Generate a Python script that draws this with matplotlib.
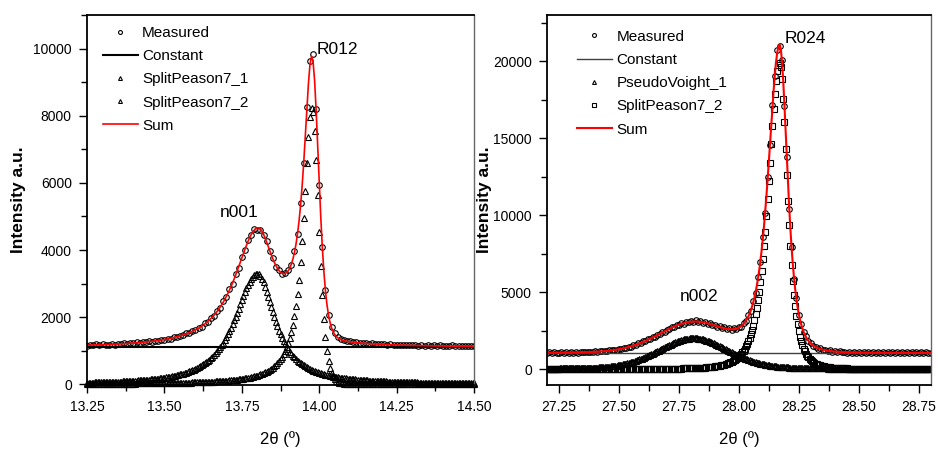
import numpy as np
import matplotlib.pyplot as plt
from matplotlib.ticker import MultipleLocator

plt.rcParams['font.family'] = ['Liberation Sans', 'DejaVu Sans']
plt.rcParams['mathtext.default'] = 'regular'

# ---- left scan: n001 / R012 ----
tt_a = np.round(np.arange(13.25, 14.505, 0.01), 2)
meas_a = [
    1150, 1185, 1160, 1192, 1170, 1200, 1168, 1178, 1215, 1186,
    1210, 1195, 1230, 1205, 1238, 1222, 1250, 1234, 1268, 1252,
    1290, 1270, 1305, 1298, 1335, 1330, 1360, 1365, 1410, 1400,
    1455, 1462, 1520, 1528, 1590, 1610, 1690, 1718, 1815, 1860,
    1985, 2040, 2195, 2280, 2470, 2600, 2840, 3000, 3290, 3480,
    3800, 4010, 4290, 4440, 4620, 4610, 4590, 4450, 4270, 3960,
    3760, 3510, 3400, 3280, 3320, 3410, 3560, 3960, 4480, 5400,
    6600, 8250, 9620, 9850, 8200, 5950, 4100, 2810, 2080, 1700,
    1520, 1400, 1355, 1320, 1290, 1280, 1262, 1250, 1245, 1230,
    1228, 1215, 1222, 1200, 1212, 1195, 1205, 1180, 1192, 1178,
    1185, 1170, 1180, 1160, 1175, 1158, 1172, 1150, 1166, 1155,
    1162, 1148, 1158, 1145, 1170, 1140, 1155, 1148, 1160, 1135,
    1150, 1142, 1155, 1138, 1148, 1140,
]
const_a = 1100
# split Pearson VII: centre, height, hwhm left, hwhm right, m left, m right
sp7_a1 = (13.800, 3300, 0.087, 0.068, 1.2, 1.0)
sp7_a2 = (13.976, 8250, 0.032, 0.026, 1.0, 5.0)

# ---- right scan: n002 / R024 ----
tt_b = np.round(np.arange(27.20, 28.805, 0.01), 2)
meas_b = [
    1040, 1085, 1050, 1095, 1060, 1030, 1090, 1065, 1100, 1045,
    1095, 1060, 1105, 1070, 1110, 1080, 1125, 1090, 1130, 1100,
    1150, 1115, 1165, 1140, 1190, 1170, 1225, 1205, 1260, 1250,
    1320, 1300, 1375, 1380, 1450, 1460, 1550, 1560, 1660, 1680,
    1790, 1810, 1930, 1950, 2070, 2100, 2230, 2260, 2400, 2430,
    2560, 2590, 2720, 2740, 2870, 2860, 2990, 2950, 3080, 3040,
    3150, 3060, 3180, 3050, 3120, 2990, 3060, 2920, 2990, 2830,
    2880, 2740, 2790, 2660, 2720, 2580, 2640, 2540, 2660, 2580,
    2760, 2740, 3000, 3100, 3500, 3780, 4400, 4950, 5950, 6950,
    8550, 10150, 12450, 14550, 17150, 19000, 20700, 21000, 20050, 17100,
    13800, 10400, 7950, 5850, 4600, 3520, 2950, 2380, 2120, 1800,
    1700, 1500, 1460, 1330, 1340, 1230, 1260, 1170, 1210, 1130,
    1180, 1100, 1150, 1080, 1135, 1060, 1120, 1050, 1110, 1040,
    1105, 1035, 1100, 1030, 1095, 1025, 1100, 1020, 1090, 1030,
    1095, 1020, 1085, 1035, 1090, 1015, 1080, 1030, 1085, 1020,
    1090, 1025, 1080, 1030, 1085, 1020, 1075, 1035, 1080, 1025,
    1070,
]
const_b = 1030
# pseudo-Voigt: centre, height, hwhm, lorentzian fraction
pv_b1 = (27.81, 2000, 0.17, 0.2)
sp7_b2 = (28.170, 19900, 0.055, 0.038, 2.0, 2.0)


def split_pearson7(x, xc, h, wl, wr, ml, mr):
    w = np.where(x < xc, wl, wr)
    m = np.where(x < xc, ml, mr)
    return h * (1 + ((x - xc) / w) ** 2 * (2 ** (1 / m) - 1)) ** (-m)


def pseudo_voigt(x, xc, h, w, eta):
    u = ((x - xc) / w) ** 2
    return h * (eta / (1 + u) + (1 - eta) * np.exp(-np.log(2) * u))


mk = dict(ls='none', mfc='none', mec='k', ms=4, mew=0.8)

fig = plt.figure(figsize=(9.38, 4.53), dpi=100)
ax1 = fig.add_axes([0.0928, 0.150, 0.4126, 0.8168])
ax2 = fig.add_axes([0.5832, 0.150, 0.4090, 0.8168])

# left panel
xf = np.linspace(13.25, 14.50, 251)
c1 = split_pearson7(xf, *sp7_a1)
c2 = split_pearson7(xf, *sp7_a2)
ax1.plot(tt_a, meas_a, marker='o', label='Measured', **mk)
ax1.axhline(const_a, color='k', lw=1.5, label='Constant')
ax1.plot(xf, c1, marker='^', label='SplitPeason7_1', clip_on=False, **mk)
ax1.plot(xf, c2, marker='^', label='SplitPeason7_2', clip_on=False, **mk)
ax1.plot(xf, const_a + c1 + c2, color='red', lw=1.2, label='Sum')
ax1.set_xlim(13.25, 14.50)
ax1.set_ylim(-20, 11000)
ax1.xaxis.set_major_locator(MultipleLocator(0.25))
ax1.xaxis.set_minor_locator(MultipleLocator(0.125))
ax1.yaxis.set_major_locator(MultipleLocator(2000))
ax1.yaxis.set_minor_locator(MultipleLocator(1000))
ax1.xaxis.set_major_formatter(lambda v, p: f'{v:.2f}')
ax1.text(13.74, 5130, 'n001', ha='center', va='center', fontsize=12.5)
ax1.text(14.06, 9970, 'R012', ha='center', va='center', fontsize=12.5)
ax1.yaxis.set_label_coords(-0.158, 0.47)

# right panel
xg = np.linspace(27.20, 28.80, 321)
d1 = pseudo_voigt(xg, *pv_b1)
d2 = split_pearson7(xg, *sp7_b2)
ax2.plot(tt_b, meas_b, marker='o', label='Measured', **mk)
ax2.axhline(const_b, color='0.25', lw=1.0, label='Constant')
ax2.plot(xg, d1, marker='^', label='PseudoVoight_1', **mk)
ax2.plot(xg, d2, marker='s', label='SplitPeason7_2', **mk)
ax2.plot(xg, const_b + d1 + d2, color='red', lw=1.5, label='Sum')
ax2.set_xlim(27.20, 28.80)
ax2.set_ylim(-1040, 22990)
ax2.xaxis.set_major_locator(MultipleLocator(0.25))
ax2.xaxis.set_minor_locator(MultipleLocator(0.125))
ax2.yaxis.set_major_locator(MultipleLocator(5000))
ax2.yaxis.set_minor_locator(MultipleLocator(2500))
ax2.xaxis.set_major_formatter(lambda v, p: f'{v:.2f}')
ax2.text(28.277, 21490, 'R024', ha='center', va='center', fontsize=12.5)
ax2.text(27.835, 4695, 'n002', ha='center', va='center', fontsize=12.5)
ax2.yaxis.set_label_coords(-0.144, 0.568)

for ax, anchor in ((ax1, (0.04, 0.97)), (ax2, (0.077, 0.96))):
    ax.set_xlabel('2θ (º)', fontsize=12, labelpad=12)
    ax.set_ylabel('Intensity a.u.', fontsize=12.5, fontweight='bold')
    ax.tick_params(which='major', direction='out', length=6, width=1,
                   labelsize=10, pad=5)
    ax.tick_params(which='minor', direction='out', length=4, width=1)
    for s in ax.spines.values():
        s.set_linewidth(1.3)
    ax.spines['right'].set_color('0.4')
    ax.spines['right'].set_linewidth(1.0)
    ax.legend(loc='upper left', bbox_to_anchor=anchor, frameon=False,
              fontsize=11, handlelength=2.3, handletextpad=0.3,
              labelspacing=0.6, borderpad=0, borderaxespad=0,
              markerscale=0.7)

fig.savefig('out.png', dpi=100)
